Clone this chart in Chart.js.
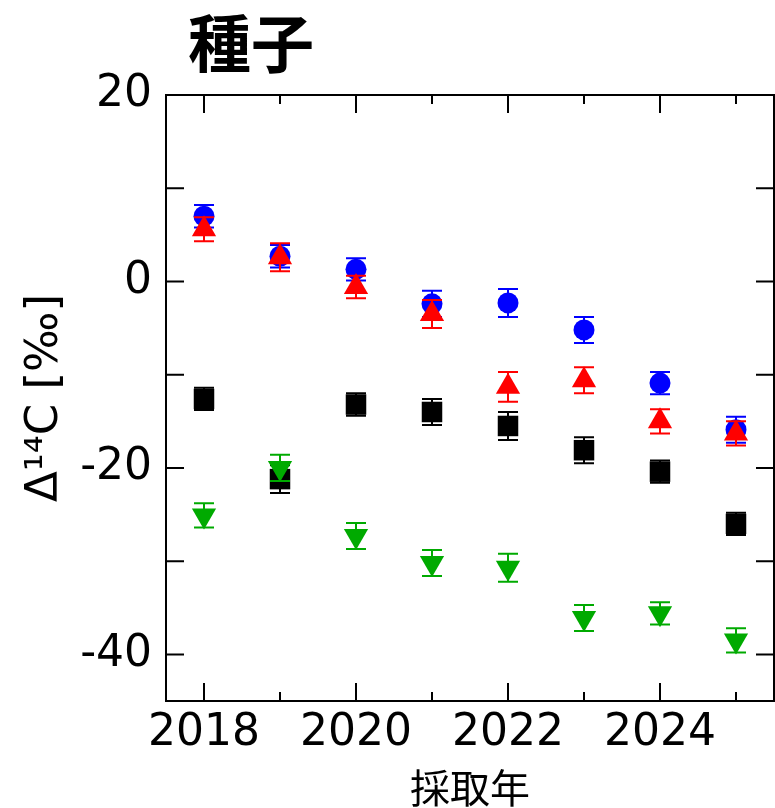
<!DOCTYPE html>
<html>
<head>
<meta charset="utf-8">
<script src="https://cdn.jsdelivr.net/npm/chart.js@4/dist/chart.umd.min.js"></script>
<style>
  html, body { margin: 0; padding: 0; background: #ffffff; }
  canvas { display: block; }
</style>
</head>
<body>
<canvas id="c" width="775" height="808"></canvas>
<script>
// Sampling years and Δ14C values (‰) with their uncertainties
const years = [2018, 2019, 2020, 2021, 2022, 2023, 2024, 2025];

const blueVals  = [7.0, 2.7, 1.3, -2.4, -2.3, -5.2, -10.9, -15.9];
const blueErr   = [1.2, 1.2, 1.2, 1.4, 1.5, 1.4, 1.2, 1.4];

const redVals   = [5.6, 2.6, -0.6, -3.5, -11.3, -10.6, -15.0, -16.3];
const redErr    = [1.3, 1.5, 1.2, 1.5, 1.6, 1.4, 1.3, 1.3];

const blackVals = [-12.6, -21.2, -13.2, -14.0, -15.5, -18.1, -20.4, -26.0];
const blackErr  = [1.2, 1.5, 1.2, 1.4, 1.5, 1.4, 1.2, 1.2];

const greenVals = [-25.1, -20.0, -27.3, -30.2, -30.7, -36.1, -35.6, -38.5];
const greenErr  = [1.3, 1.4, 1.4, 1.4, 1.5, 1.4, 1.2, 1.3];

// Axis labels and tick marks
const xTickLabels = [2018, 2020, 2022, 2024];
const yTickLabels = [-40, -20, 0, 20];
const xTickMarks  = [2018, 2019, 2020, 2021, 2022, 2023, 2024, 2025];
const yTickMarks  = [-40, -30, -20, -10, 0, 10, 20];

const chartTitle = '種子';
const xTitle = '採取年';
const yTitle = 'Δ¹⁴C [‰]';

const TICK_FONT = '"DejaVu Sans", "Liberation Sans", sans-serif';
const CJK_FONT = '"Noto Sans CJK JP", "Noto Sans CJK SC", sans-serif';

function points(vals) {
  return years.map((yr, i) => ({ x: yr, y: vals[i] }));
}

function series(vals, errs, color, style, rotation, radius, order) {
  return {
    data: points(vals),
    errors: errs,
    backgroundColor: color,
    borderColor: color,
    borderWidth: 0,
    pointStyle: style,
    rotation: rotation,
    pointRadius: radius,
    pointHoverRadius: radius,
    showLine: false,
    order: order
  };
}

// Vertical error bars with caps, drawn just beneath each series' markers
const errorBars = {
  id: 'errorBars',
  beforeDatasetDraw(chart, args) {
    const ds = chart.data.datasets[args.index];
    const yScale = chart.scales.y;
    const ctx = chart.ctx;
    const cap = 10;
    ctx.save();
    ctx.strokeStyle = ds.borderColor;
    ctx.lineWidth = 2;
    args.meta.data.forEach((pt, i) => {
      const v = ds.data[i].y;
      const e = ds.errors[i];
      const top = yScale.getPixelForValue(v + e);
      const bot = yScale.getPixelForValue(v - e);
      const x = pt.x;
      ctx.beginPath();
      ctx.moveTo(x, top); ctx.lineTo(x, bot);
      ctx.moveTo(x - cap, top); ctx.lineTo(x + cap, top);
      ctx.moveTo(x - cap, bot); ctx.lineTo(x + cap, bot);
      ctx.stroke();
    });
    ctx.restore();
  }
};

// Closed frame with inward ticks on all four sides, plus the heading
const frame = {
  id: 'frame',
  afterDraw(chart) {
    const { ctx, chartArea: a, scales } = chart;
    const xs = scales.x, ys = scales.y;
    const major = 18, minor = 9;
    ctx.save();
    ctx.strokeStyle = '#000';
    ctx.lineWidth = 2;
    ctx.strokeRect(a.left, a.top, a.right - a.left, a.bottom - a.top);
    ctx.beginPath();
    xTickMarks.forEach(v => {
      const px = xs.getPixelForValue(v);
      const len = (v % 2 === 0) ? major : minor;
      ctx.moveTo(px, a.bottom); ctx.lineTo(px, a.bottom - len);
      ctx.moveTo(px, a.top); ctx.lineTo(px, a.top + len);
    });
    yTickMarks.forEach(v => {
      const py = ys.getPixelForValue(v);
      ctx.moveTo(a.left, py); ctx.lineTo(a.left + major, py);
      ctx.moveTo(a.right, py); ctx.lineTo(a.right - major, py);
    });
    ctx.stroke();

    ctx.fillStyle = '#000';
    ctx.font = 'bold 63px ' + CJK_FONT;
    ctx.textAlign = 'left';
    ctx.textBaseline = 'middle';
    ctx.fillText(chartTitle, 188, 43);
    ctx.restore();
  }
};

new Chart(document.getElementById('c'), {
  type: 'scatter',
  data: {
    datasets: [
      series(blueVals,  blueErr,  '#0000ff', 'circle',   0,   10.5, 4),
      series(redVals,   redErr,   '#ff0000', 'triangle', 0,   14,   3),
      series(blackVals, blackErr, '#000000', 'rect',     0,   14.5, 2),
      series(greenVals, greenErr, '#00aa00', 'triangle', 180, 14,   1)
    ]
  },
  options: {
    responsive: false,
    animation: false,
    devicePixelRatio: 1,
    layout: { autoPadding: false, padding: { top: 95, right: 1, bottom: 0, left: 0 } },
    plugins: {
      legend: { display: false },
      title: { display: false },
      tooltip: { enabled: false }
    },
    scales: {
      x: {
        type: 'linear',
        min: 2017.5,
        max: 2025.5,
        grid: { display: false, drawTicks: false },
        border: { display: false },
        afterBuildTicks: axis => { axis.ticks = xTickLabels.map(v => ({ value: v })); },
        afterFit: s => { s.height = 107; s.paddingLeft = 0; s.paddingRight = 0; },
        ticks: {
          color: '#000',
          font: { family: TICK_FONT, size: 44, lineHeight: 1 },
          padding: 11,
          maxRotation: 0,
          autoSkip: false,
          callback: v => String(v)
        },
        title: {
          display: true,
          text: xTitle,
          color: '#000',
          font: { family: CJK_FONT, size: 40, lineHeight: 1 },
          padding: 0
        }
      },
      y: {
        type: 'linear',
        min: -45,
        max: 20,
        grid: { display: false, drawTicks: false },
        border: { display: false },
        afterBuildTicks: axis => { axis.ticks = yTickLabels.map(v => ({ value: v })); },
        afterFit: s => { s.width = 166; s.paddingTop = 0; s.paddingBottom = 0; },
        ticks: {
          color: '#000',
          font: { family: TICK_FONT, size: 44, lineHeight: 1 },
          padding: 14,
          autoSkip: false,
          callback: v => String(v)
        },
        title: {
          display: true,
          text: yTitle,
          color: '#000',
          font: { family: TICK_FONT, size: 45, lineHeight: 1 },
          padding: { top: 23, bottom: 0 }
        }
      }
    }
  },
  plugins: [errorBars, frame]
});
</script>
</body>
</html>
